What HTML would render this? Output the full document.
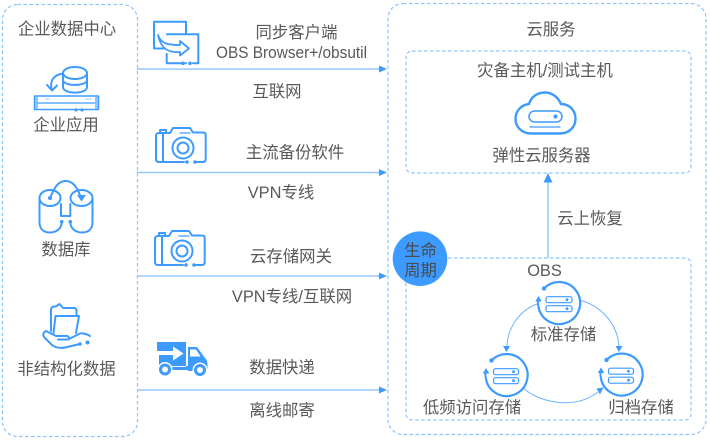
<!DOCTYPE html>
<html><head><meta charset="utf-8">
<style>
html,body{margin:0;padding:0;background:#fff;width:710px;height:441px;overflow:hidden}
svg{display:block;filter:blur(.35px)}
text{font-family:"Liberation Sans","Noto Sans CJK SC",sans-serif;font-size:16.4px;fill:#595959;text-anchor:middle}
.d{fill:none;stroke:#8cc4ff;stroke-width:1.2;stroke-dasharray:3.5 2.5}
.l{stroke:#94c8ff;stroke-width:1.5;fill:none}
.a{fill:#3d9bff;stroke:none}
.i{fill:none;stroke:#3d9bff;stroke-width:2;stroke-linecap:round;stroke-linejoin:round}
.t{fill:none;stroke:#3d9bff;stroke-width:1.2;stroke-linecap:round;stroke-linejoin:round}
.c{fill:none;stroke:#6fb4ff;stroke-width:1}
.f{fill:#3d9bff;stroke:none}
</style></head><body>
<svg width="710" height="441" viewBox="0 0 710 441" xmlns="http://www.w3.org/2000/svg">
<rect class="d" x="2.500" y="4.500" width="135" height="432" rx="15"/>
<rect class="d" x="388" y="3.500" width="318" height="431" rx="15"/>
<rect class="d" x="406" y="51" width="285" height="122" rx="6"/>
<rect class="d" x="406" y="258" width="285" height="162" rx="6"/>

<line class="l" x1="137" y1="69" x2="380" y2="69"/><path class="a" d="M387 69l-8-3.500v7z"/>
<line class="l" x1="137" y1="172.500" x2="380" y2="172.500"/><path class="a" d="M387 172.500l-8-3.500v7z"/>
<line class="l" x1="137" y1="276" x2="380" y2="276"/><path class="a" d="M387 276l-8-3.500v7z"/>
<line class="l" x1="137" y1="390" x2="380" y2="390"/><path class="a" d="M387 390l-8-3.500v7z"/>
<line class="l" x1="548" y1="258" x2="548" y2="182"/><path class="a" d="M548 173l-4.500 9.500h9z"/>

<text x="67" y="34.500">企业数据中心</text>
<text x="66" y="130.500">企业应用</text>
<text x="66" y="255">数据库</text>
<text x="66.500" y="374.500">非结构化数据</text>
<text x="296.500" y="38">同步客户端</text>
<text x="291.500" y="58" textLength="151" lengthAdjust="spacingAndGlyphs">OBS Browser+/obsutil</text>
<text x="277" y="97">互联网</text>
<text x="295" y="158">主流备份软件</text>
<text x="281" y="198">VPN专线</text>
<text x="291" y="262">云存储网关</text>
<text x="292" y="302">VPN专线/互联网</text>
<text x="282" y="373">数据快递</text>
<text x="282" y="416">离线邮寄</text>
<text x="551" y="35">云服务</text>
<text x="545" y="76">灾备主机/测试主机</text>
<text x="541.500" y="161">弹性云服务器</text>
<text x="590" y="224">云上恢复</text>
<text x="544.500" y="276">OBS</text>
<text x="563.500" y="340">标准存储</text>
<text x="472" y="413">低频访问存储</text>
<text x="641" y="413">归档存储</text>

<!-- lifecycle badge -->
<circle cx="420" cy="258.700" r="27.300" fill="#3d9bff"/>
<text x="420.500" y="256" style="fill:#4a4a4a">生命</text>
<text x="420.500" y="276" style="fill:#4a4a4a">周期</text>

<!-- sync icon -->
<path class="i" d="M166 48.500H154V21.700H186V34"/>
<path class="i" d="M167 34.300H198.300V63.300H193M186 63.300H166.700V54"/>
<path d="M158 35C161 44 168 45 180 45V41L189 48.500L180 55.500V52C170 53 161 50 158 35Z" fill="#fff" stroke="#3d9bff" stroke-width="1.800" stroke-linejoin="round"/>
<circle class="f" cx="183" cy="63.300" r="1.800"/><circle class="f" cx="190" cy="63.300" r="1.800"/>

<!-- enterprise app icon -->
<ellipse class="i" cx="75" cy="73" rx="12" ry="6"/>
<path class="i" d="M63 73V87C63 94.500 87 94.500 87 87V73M63 80C63 86.500 87 86.500 87 80"/>
<path class="i" d="M63 73.500C53 75 50 81 51.500 89"/>
<path class="i" d="M47 85L52 90.500L57 85.500"/>
<rect class="i" x="34.500" y="96" width="64" height="13.500" style="stroke-width:1.500"/>
<rect x="35" y="97" width="3" height="12" fill="#8cc4ff"/><rect x="95" y="97" width="3" height="12" fill="#8cc4ff"/>
<path class="t" d="M38 103H95"/>
<path d="M45 99H50M85 99H92" stroke="#a6d2ff" stroke-width="1"/>
<circle class="f" cx="76" cy="110" r="1.600"/><circle class="f" cx="82" cy="110" r="1.600"/>

<!-- camera 1 -->
<g>
<path class="i" d="M163 133H159Q156 133 156 136V159Q156 162 159 162H184"/>
<path class="i" d="M163 162V133H170L173 128H190L193 132.500H203Q205.700 132.500 205.700 135V159Q205.700 162 203 162H195"/>
<path class="i" d="M160 133V130H166V133"/>
<circle class="i" cx="183" cy="148" r="10.500"/>
<circle class="i" cx="183" cy="148" r="5.500"/>
<path class="t" d="M180 133H190"/>
<circle class="f" cx="187" cy="162" r="1.800"/><circle class="f" cx="195" cy="162" r="1.800"/>
</g>
<!-- camera 2 -->
<g transform="translate(-1,103)">
<path class="i" d="M163 133H159Q156 133 156 136V159Q156 162 159 162H184"/>
<path class="i" d="M163 162V133H170L173 128H190L193 132.500H203Q205.700 132.500 205.700 135V159Q205.700 162 203 162H195"/>
<path class="i" d="M160 133V130H166V133"/>
<circle class="i" cx="183" cy="148" r="10.500"/>
<circle class="i" cx="183" cy="148" r="5.500"/>
<path class="t" d="M180 133H190"/>
<circle class="f" cx="187" cy="162" r="1.800"/><circle class="f" cx="195" cy="162" r="1.800"/>
</g>

<!-- database icon -->
<ellipse class="i" cx="50" cy="198" rx="10.500" ry="8"/>
<ellipse class="i" cx="81.500" cy="198" rx="11" ry="8"/>
<path class="i" d="M39.500 198V222C39.500 231 46 232.500 50 232.500C57 232.500 61.700 228 61.700 222"/>
<path class="i" d="M92.500 198V222C92.500 231 86 232.500 82 232.500C75 232.500 70.300 228 70.300 222"/>
<path class="i" d="M61 204V216H70.300V204"/>
<path class="i" d="M50 198L53 191.500C56 185 60 181 65.500 181C71 181 75.500 185 78.500 191.500L81 198"/>
<circle class="f" cx="50" cy="198" r="2"/>
<path class="f" d="M77 195h9l-4.500 6.500z"/>
<circle class="f" cx="61.700" cy="221.700" r="1.800"/><circle class="f" cx="70.300" cy="221.700" r="1.800"/>

<!-- folder-in-hand icon -->
<path class="i" d="M51 331V310.500Q51 306.500 54 306.500H56L59.500 304L63 308H74Q76 308 76.500 310V315"/>
<path class="i" d="M53.500 333L55.500 316H79L76 333"/>
<path class="i" d="M80 344L65 347.500Q57 349 52 345L44 337Q42 333 46 331L56 336H67Q70 337 68.500 339.500H58"/>
<path class="i" d="M69 339L80 333.500Q85 333 90 336"/>
<circle class="f" cx="80" cy="344" r="1.800"/><circle class="f" cx="87.500" cy="342.500" r="2"/>

<!-- truck icon -->
<path class="f" d="M157 342H186V366H159V355H173V360.500L183.500 353.500L173 346.500V351H157Z"/>
<path class="f" d="M188 347H197L205 358Q207.500 360 207.500 366V371H188Z"/>
<path d="M190 349.500H196L200.500 356.500H190Z" fill="#fff"/>
<path class="f" d="M186 366H188V370H172V367H186Z"/>
<circle cx="165" cy="369.500" r="7.500" fill="#fff"/>
<circle class="f" cx="165" cy="369.500" r="6"/><circle cx="165" cy="369.500" r="3" fill="#fff"/>
<circle cx="200" cy="370" r="7.500" fill="#fff"/>
<circle class="f" cx="200" cy="370" r="6"/><circle cx="200" cy="370" r="3" fill="#fff"/>

<!-- cloud icon -->
<path d="M531 133.500H560C570 133.500 575.500 126 575.500 119C575.500 110 569 104 561 104C558 97 552 92.500 545 92.500C537 92.500 531 97 529 104C521 105 515.500 111 515.500 119C515.500 127 522 133.500 531 133.500Z" fill="none" stroke="#3d9bff" stroke-width="2.400"/>
<rect class="t" x="529" y="111" width="33" height="11" rx="5.500" style="stroke-width:1.500"/>
<circle class="f" cx="555.500" cy="116.500" r="2"/>
<line class="t" x1="530" y1="127" x2="560" y2="127"/>

<!-- OBS cycle connectors -->
<path class="c" d="M537 304C518 311 507 330 507 347"/><path class="a" d="M506.500 352l-3.500-6h7z"/>
<path class="c" d="M579 300C603 306 618 326 619 347"/><path class="a" d="M619 352l-3.500-6h7z"/>
<path class="c" d="M523 388C540 403 575 410 598 392"/><path class="a" d="M603.500 387.500l-7 1 3.500 6z"/>

<!-- storage icons -->
<g>
<path class="i" d="M544 288.500A21 21 0 1 1 538.500 307" style="stroke-width:2.200"/>
<path class="i" d="M538.500 307Q537.500 303 538 299"/>
<circle class="f" cx="544" cy="288.500" r="2.200"/>
<path class="f" d="M538.500 296l-3.200 5.500h6.500z"/>
<rect class="t" x="546" y="296.700" width="26" height="6" rx="2"/>
<rect class="t" x="546" y="305.700" width="26" height="6" rx="2"/>
<circle class="f" cx="567" cy="299.700" r="1.400"/><circle class="f" cx="567" cy="308.700" r="1.400"/>
</g>
<g transform="translate(-52.500,72)">
<path class="i" d="M544 288.500A21 21 0 1 1 538.500 307" style="stroke-width:2.200"/>
<path class="i" d="M538.500 307Q537.500 303 538 299"/>
<circle class="f" cx="544" cy="288.500" r="2.200"/>
<path class="f" d="M538.500 296l-3.200 5.500h6.500z"/>
<rect class="t" x="546" y="296.700" width="25" height="6" rx="2"/>
<rect class="t" x="546" y="305.700" width="25" height="6" rx="2"/>
<circle class="f" cx="566" cy="299.700" r="1.400"/><circle class="f" cx="566" cy="308.700" r="1.400"/>
</g>
<g transform="translate(62.500,71.500)">
<path class="i" d="M544 288.500A21 21 0 1 1 538.500 307" style="stroke-width:2.200"/>
<path class="i" d="M538.500 307Q537.500 303 538 299"/>
<circle class="f" cx="544" cy="288.500" r="2.200"/>
<path class="f" d="M538.500 296l-3.200 5.500h6.500z"/>
<rect class="t" x="546" y="296.700" width="25" height="6" rx="2"/>
<rect class="t" x="546" y="305.700" width="25" height="6" rx="2"/>
<circle class="f" cx="566" cy="299.700" r="1.400"/><circle class="f" cx="566" cy="308.700" r="1.400"/>
</g>
</svg>
</body></html>
